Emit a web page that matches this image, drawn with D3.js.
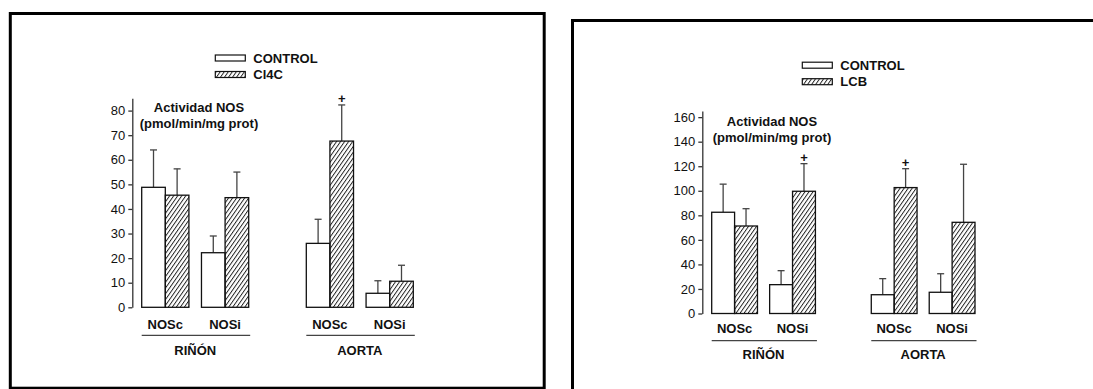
<!DOCTYPE html>
<html>
<head>
<meta charset="utf-8">
<script src="https://cdn.jsdelivr.net/npm/d3@7"></script>
<style>
  html, body { margin: 0; padding: 0; background: #fff; }
  svg { display: block; }
  text { font-family: "Liberation Sans", Arial, Helvetica, sans-serif; fill: #111; }
</style>
</head>
<body>
<svg id="chart" width="1093" height="389"></svg>
<script>
// ---- data -------------------------------------------------------------
const groups = ["RIÑÓN", "AORTA"];
const isoforms = ["NOSc", "NOSi"];
const seriesKeys = ["control", "treated"];
const yTitleLines = ["Actividad NOS", "(pmol/min/mg prot)"];

// Panel A: CONTROL vs Cl4C (order: RIÑÓN NOSc, RIÑÓN NOSi, AORTA NOSc, AORTA NOSi)
const cl4cLegend = ["CONTROL", "Cl4C"];
const cl4cTicks = [0, 10, 20, 30, 40, 50, 60, 70, 80];
const cl4cControl = [48.8, 22.2, 26.0, 5.7];
const cl4cControlSd = [15.2, 6.8, 9.8, 5.1];
const cl4cTreated = [45.6, 44.6, 67.6, 10.6];
const cl4cTreatedSd = [10.7, 10.4, 14.7, 6.5];
const cl4cSignif = [false, false, true, false];

// Panel B: CONTROL vs LCB
const lcbLegend = ["CONTROL", "LCB"];
const lcbTicks = [0, 20, 40, 60, 80, 100, 120, 140, 160];
const lcbControl = [82.5, 23.5, 15.3, 17.3];
const lcbControlSd = [22.9, 11.4, 13.1, 15.1];
const lcbTreated = [71.3, 99.6, 102.6, 74.3];
const lcbTreatedSd = [14.1, 22.5, 15.4, 47.3];
const lcbSignif = [false, true, true, false];

// ---- drawing ----------------------------------------------------------
const svg = d3.select("#chart");
const FONT = 13;

// diagonal hatch used for the treated series
const defs = svg.append("defs");
defs.append("pattern")
  .attr("id", "hatch")
  .attr("patternUnits", "userSpaceOnUse")
  .attr("width", 3.3).attr("height", 10)
  .attr("patternTransform", "rotate(35)")
  .append("line")
  .attr("x1", 0.5).attr("y1", 0).attr("x2", 0.5).attr("y2", 10)
  .attr("stroke", "#111").attr("stroke-width", 0.9);

function drawPanel(cfg) {
  // frame
  svg.append("rect")
    .attr("x", cfg.frame[0]).attr("y", cfg.frame[1])
    .attr("width", cfg.frame[2]).attr("height", cfg.frame[3])
    .attr("fill", "none").attr("stroke", "#000").attr("stroke-width", 3);

  const g = svg.append("g");

  const y = d3.scaleLinear().domain([0, cfg.yMax]).range(cfg.yRange);
  const xg = d3.scaleBand().domain(groups).range(cfg.xRange).paddingInner(0.35);
  const xi = d3.scaleBand().domain(isoforms).range([0, xg.bandwidth()]).paddingInner(0.21);
  const xs = d3.scaleBand().domain(seriesKeys).range([0, xi.bandwidth()]);

  // y axis
  const axis = g.append("g")
    .attr("transform", `translate(${cfg.axisX},0)`)
    .call(d3.axisLeft(y).tickValues(cfg.ticks).tickSize(4).tickSizeOuter(0).tickPadding(3));
  axis.select(".domain").attr("stroke", "#333").attr("stroke-width", 1.3);
  axis.selectAll(".tick line").attr("stroke", "#333").attr("stroke-width", 1.3);
  axis.selectAll(".tick text")
    .attr("font-size", FONT).attr("font-family", "Liberation Sans, Arial, sans-serif")
    .attr("fill", "#222");

  // records
  const rows = [];
  groups.forEach((grp, gi) => {
    isoforms.forEach((iso, ii) => {
      const k = gi * isoforms.length + ii;
      rows.push({ grp, iso, key: "control", v: cfg.control[k], sd: cfg.controlSd[k], sig: false });
      rows.push({ grp, iso, key: "treated", v: cfg.treated[k], sd: cfg.treatedSd[k], sig: cfg.signif[k] });
    });
  });
  const bx = d => xg(d.grp) + xi(d.iso) + xs(d.key);
  const cx = d => bx(d) + xs.bandwidth() / 2;

  // error bars (upper only)
  const eb = g.append("g").attr("stroke", "#444").attr("stroke-width", 1.3);
  eb.selectAll("line.stem").data(rows).join("line")
    .attr("x1", cx).attr("x2", cx)
    .attr("y1", d => y(d.v)).attr("y2", d => y(d.v + d.sd));
  eb.selectAll("line.cap").data(rows).join("line")
    .attr("x1", d => cx(d) - 3.5).attr("x2", d => cx(d) + 3.5)
    .attr("y1", d => y(d.v + d.sd)).attr("y2", d => y(d.v + d.sd));

  // bars
  g.selectAll("rect.bar").data(rows).join("rect")
    .attr("class", "bar")
    .attr("x", bx).attr("width", xs.bandwidth())
    .attr("y", d => y(d.v)).attr("height", d => y(0) - y(d.v))
    .attr("fill", d => d.key === "control" ? "#fff" : "url(#hatch)")
    .attr("stroke", "#111").attr("stroke-width", 1.3);

  // significance marks
  g.selectAll("text.sig").data(rows.filter(d => d.sig)).join("text")
    .attr("x", cx).attr("y", d => y(d.v + d.sd) - 6.5)
    .attr("text-anchor", "middle").attr("dominant-baseline", "central")
    .attr("font-size", 13).attr("font-weight", "bold")
    .text("+");

  // isoform labels
  const y0 = y(0);
  groups.forEach(grp => {
    isoforms.forEach(iso => {
      g.append("text")
        .attr("x", xg(grp) + xi(iso) + xi.bandwidth() / 2)
        .attr("y", y0 + cfg.catDy)
        .attr("text-anchor", "middle").attr("dominant-baseline", "central")
        .attr("font-size", FONT).attr("font-weight", "bold")
        .text(iso);
    });
    g.append("line")
      .attr("x1", xg(grp)).attr("x2", xg(grp) + xg.bandwidth() + 1.5)
      .attr("y1", y0 + cfg.lineDy).attr("y2", y0 + cfg.lineDy)
      .attr("stroke", "#444").attr("stroke-width", 1.2);
    g.append("text")
      .attr("x", xg(grp) + xg.bandwidth() / 2)
      .attr("y", y0 + cfg.groupDy)
      .attr("text-anchor", "middle").attr("dominant-baseline", "central")
      .attr("font-size", FONT).attr("font-weight", "bold")
      .text(grp);
  });

  // y title
  yTitleLines.forEach((t, i) => {
    g.append("text")
      .attr("x", cfg.title[0]).attr("y", cfg.title[1] + i * 15.5)
      .attr("text-anchor", "middle").attr("dominant-baseline", "central")
      .attr("font-size", FONT).attr("font-weight", "bold")
      .text(t);
  });

  // legend
  cfg.legend.forEach((name, i) => {
    const ly = cfg.legendPos[1] + i * 16.5;
    g.append("rect")
      .attr("x", cfg.legendPos[0]).attr("y", ly - 3)
      .attr("width", 30).attr("height", 6)
      .attr("fill", i === 0 ? "#fff" : "url(#hatch)")
      .attr("stroke", "#111").attr("stroke-width", 1.2);
    g.append("text")
      .attr("x", cfg.legendPos[0] + 38).attr("y", ly)
      .attr("dominant-baseline", "central")
      .attr("font-size", FONT).attr("font-weight", "bold")
      .text(name);
  });
}

drawPanel({
  frame: [10.3, 13.5, 533.9, 374.7],
  axisX: 132.3,
  xRange: [141.7, 413.3],
  yRange: [307.3, 98.3],
  yMax: 85,
  ticks: cl4cTicks,
  control: cl4cControl, controlSd: cl4cControlSd,
  treated: cl4cTreated, treatedSd: cl4cTreatedSd,
  signif: cl4cSignif,
  legend: cl4cLegend,
  legendPos: [215.3, 58],
  title: [199, 107.7],
  catDy: 16.7, lineDy: 28, groupDy: 43
});

drawPanel({
  frame: [572.5, 20.5, 560, 400],
  axisX: 702.3,
  xRange: [711.7, 975],
  yRange: [313.5, 111],
  yMax: 165,
  ticks: lcbTicks,
  control: lcbControl, controlSd: lcbControlSd,
  treated: lcbTreated, treatedSd: lcbTreatedSd,
  signif: lcbSignif,
  legend: lcbLegend,
  legendPos: [802.3, 65.2],
  title: [772, 121.7],
  catDy: 15.3, lineDy: 27.2, groupDy: 41
});
</script>
</body>
</html>
